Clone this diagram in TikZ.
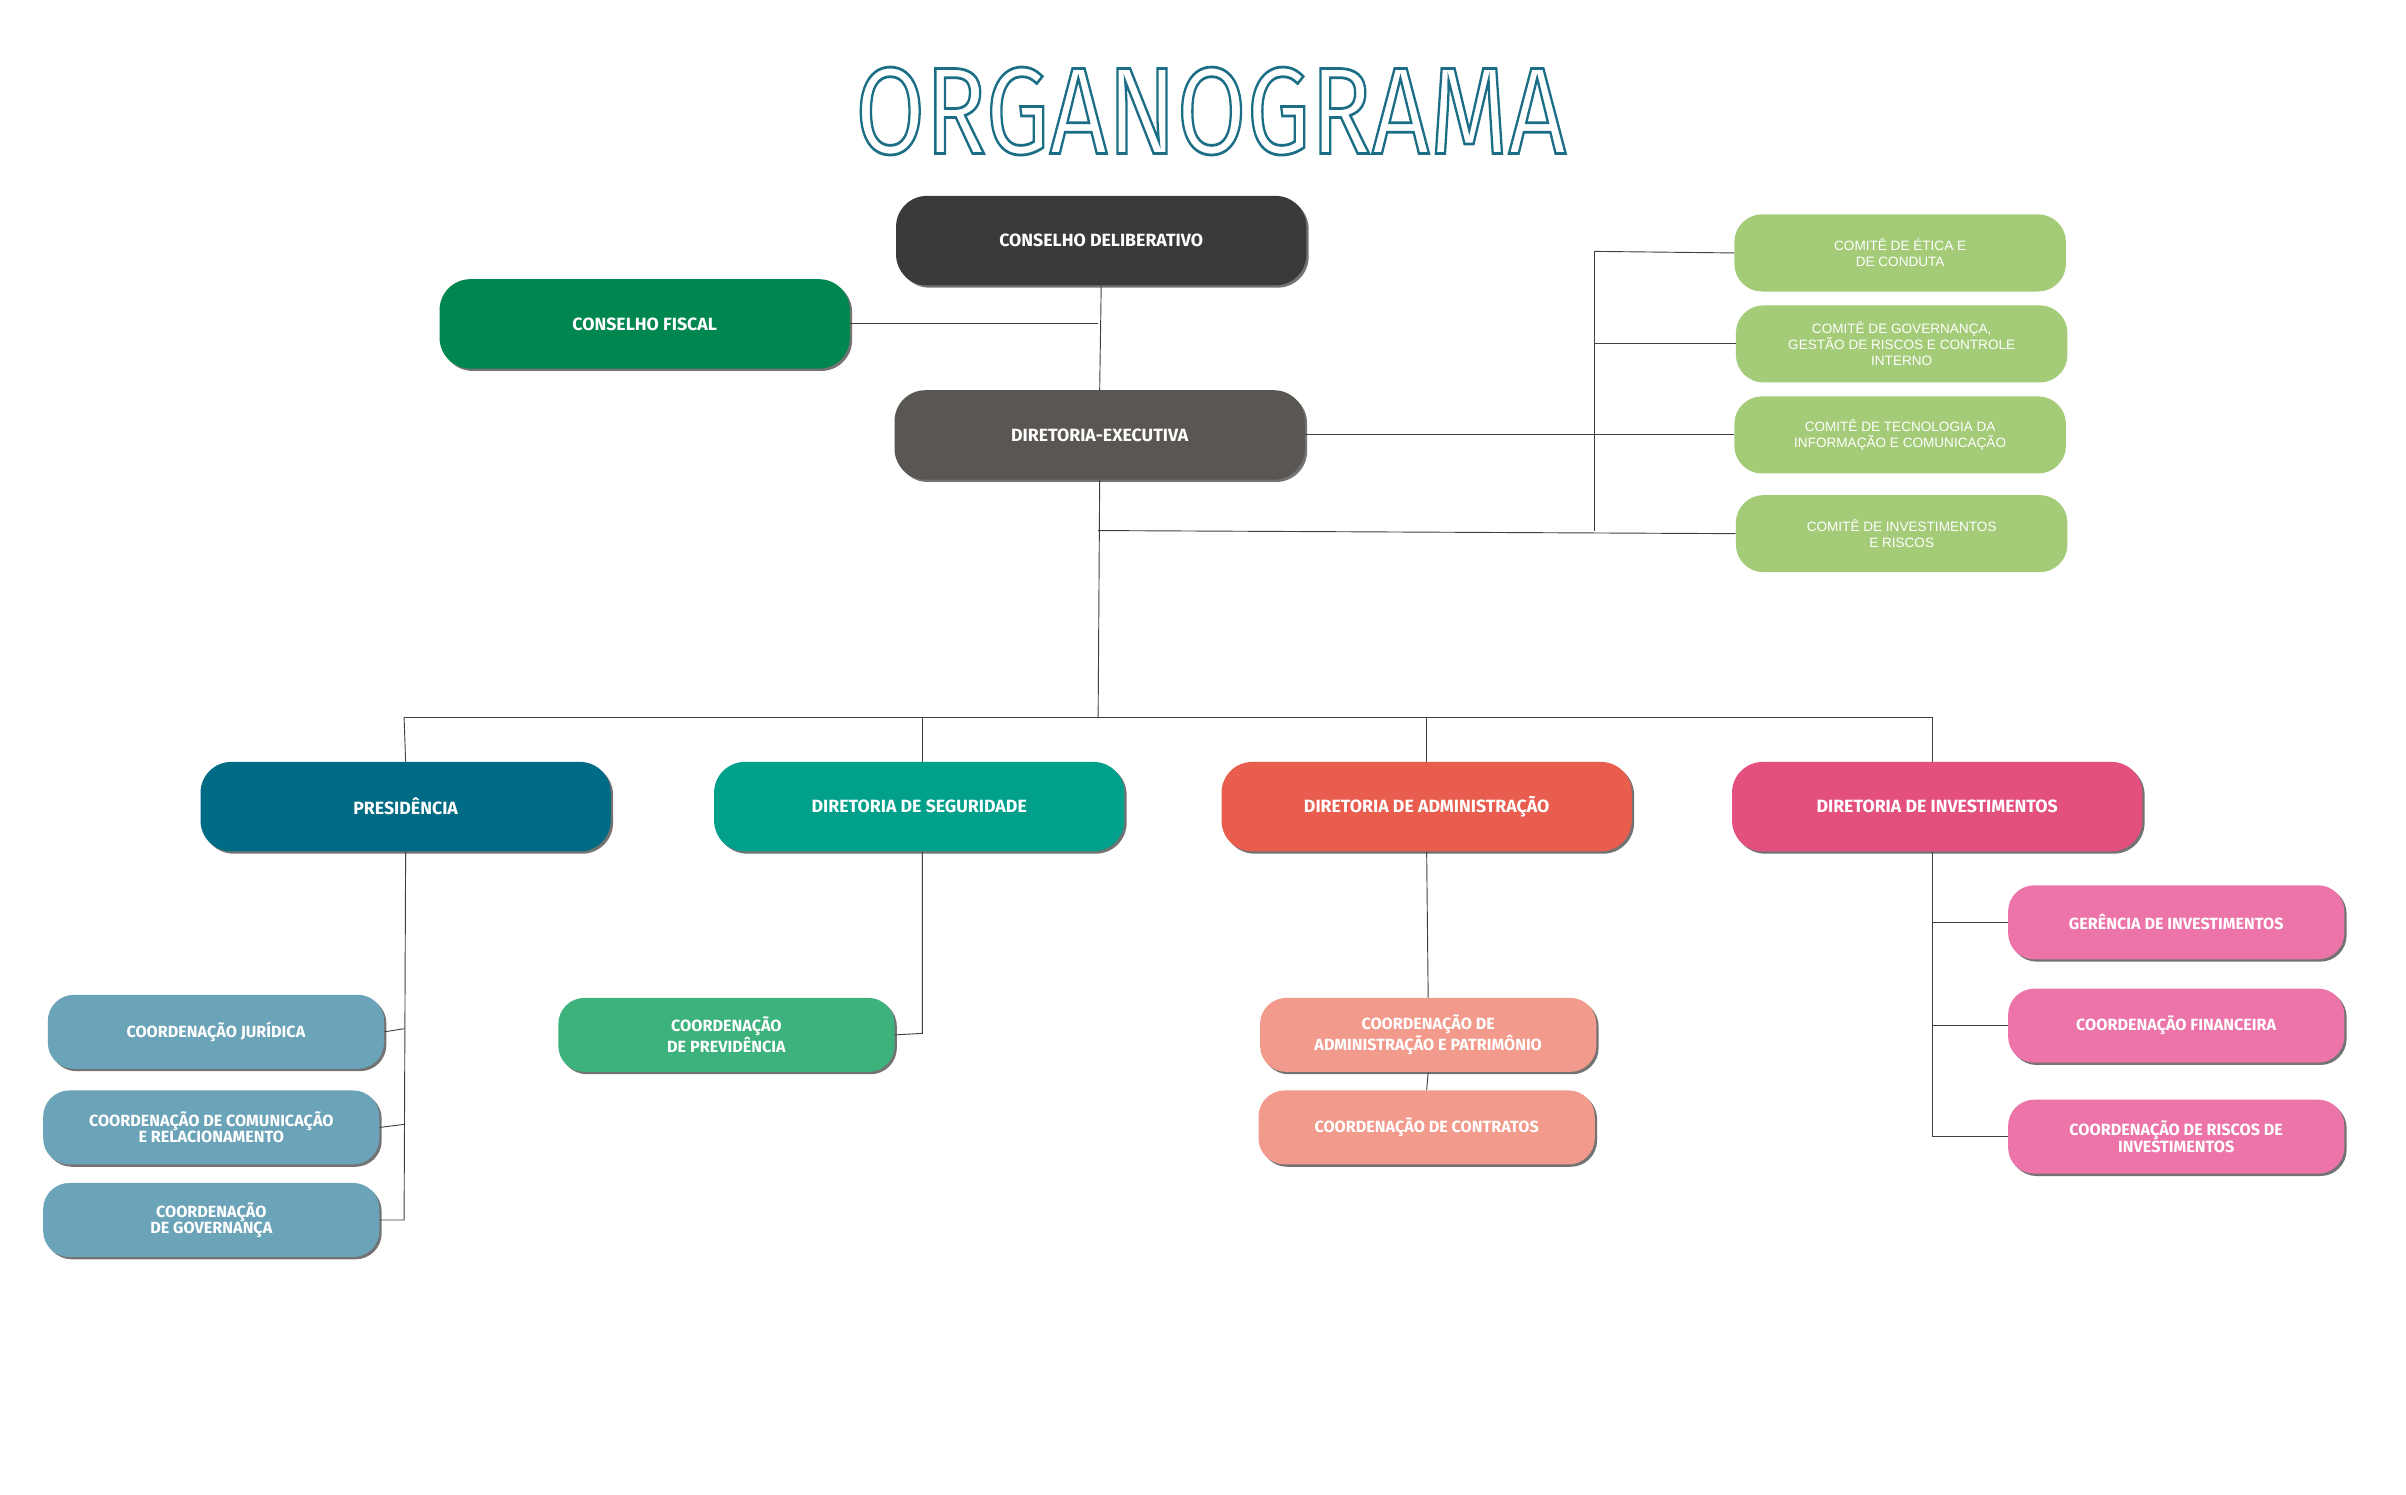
\documentclass[tikz,border=0pt]{standalone}
\usepackage{fontspec}
\setmainfont{Fira Sans}
\newfontfamily\comfont{Liberation Sans}
\usetikzlibrary{shadows}
\definecolor{cd}{HTML}{3A3A3A}
\definecolor{cf}{HTML}{00864F}
\definecolor{de}{HTML}{5A5651}
\definecolor{com}{HTML}{A4CB78}
\definecolor{pres}{HTML}{006B85}
\definecolor{seg}{HTML}{00A08B}
\definecolor{adm}{HTML}{E85D4E}
\definecolor{inv}{HTML}{E4507E}
\definecolor{presc}{HTML}{6BA3B8}
\definecolor{prev}{HTML}{3DB27D}
\definecolor{admc}{HTML}{F29A8C}
\definecolor{invc}{HTML}{EC74A8}
\definecolor{titc}{HTML}{1B6E85}
\tikzset{
 box/.style={rounded corners=17pt, fill=#1, text=white, align=center, inner sep=0pt,
   drop shadow={shadow xshift=1.5pt, shadow yshift=-1.5pt, fill=black!55, opacity=1},
   font=\bfseries\fontsize{11.5}{11}\selectfont},
 big/.style={box=#1, minimum width=266pt, minimum height=58pt, rounded corners=20pt},
 small/.style={box=#1, minimum width=218pt, minimum height=48pt, rounded corners=17pt, font=\bfseries\fontsize{10.5}{10.5}\selectfont},
 comm/.style={rounded corners=18pt, fill=com, text=white, align=center, inner sep=0pt,
   minimum width=215pt, minimum height=50pt, font=\comfont\fontsize{8.8}{10.5}\selectfont},
 ln/.style={draw=black!75, line width=0.6pt}
}
\begin{document}
\begin{tikzpicture}[x=1pt,y=-1pt]
\useasboundingbox (0,0) rectangle (1560,969);
\fill[white] (0,0) rectangle (1560,969);
\node (title) at (785,72) {\color{titc}\special{pdf:literal direct 1 Tr 1.8 w}\scalebox{0.82}[1]{\fontsize{80}{80}\selectfont ORGANOGRAMA}\special{pdf:literal direct 0 Tr}};
% lines
\coordinate (j1) at (712,210);
\coordinate (j2) at (712,344);
\coordinate (j3) at (712,465);
\coordinate (cv1) at (1034,163);
\coordinate (cv2) at (1034,223);
\coordinate (cv3) at (1034,282);
\coordinate (cv4) at (1034,344);
\coordinate (hp) at (262,465);
\coordinate (hs) at (598,465);
\coordinate (ha) at (925,465);
\coordinate (hi) at (1253,465);
\coordinate (pv) at (262,791);
\coordinate (p1) at (262,667);
\coordinate (p2) at (262,729);
\coordinate (sv) at (598,670);
\coordinate (iv) at (1253,737);
\coordinate (i1) at (1253,598);
\coordinate (i2) at (1253,665);

\node[big=cd] (CD) at (714,156) {CONSELHO DELIBERATIVO};
\node[big=cf] (CF) at (418,210) {CONSELHO FISCAL};
\node[big=de] (DE) at (713,282) {DIRETORIA-EXECUTIVA};
\node[comm] (C1) at (1232,164) {COMITÊ DE ÉTICA E\\DE CONDUTA};
\node[comm] (C2) at (1233,223) {COMITÊ DE GOVERNANÇA,\\GESTÃO DE RISCOS E CONTROLE\\INTERNO};
\node[comm] (C3) at (1232,282) {COMITÊ DE TECNOLOGIA DA\\INFORMAÇÃO E COMUNICAÇÃO};
\node[comm] (C4) at (1233,346) {COMITÊ DE INVESTIMENTOS\\E RISCOS};
\node[big=pres] (P) at (263,523) {PRESIDÊNCIA};
\node[big=seg] (S) at (596,523) {DIRETORIA DE SEGURIDADE};
\node[big=adm] (A) at (925,523) {DIRETORIA DE ADMINISTRAÇÃO};
\node[big=inv] (I) at (1256,523) {DIRETORIA DE INVESTIMENTOS};
\node[small=presc] (PJ) at (140,669) {COORDENAÇÃO JURÍDICA};
\node[small=presc] (PC) at (137,731) {COORDENAÇÃO DE COMUNICAÇÃO\\E RELACIONAMENTO};
\node[small=presc] (PG) at (137,791) {COORDENAÇÃO\\DE GOVERNANÇA};
\node[small=prev] (SP) at (471,671) {COORDENAÇÃO\\DE PREVIDÊNCIA};
\node[small=admc] (A1) at (926,671) {COORDENAÇÃO DE\\ADMINISTRAÇÃO E PATRIMÔNIO};
\node[small=admc] (A2) at (925,731) {COORDENAÇÃO DE CONTRATOS};
\node[small=invc] (I1) at (1411,598) {GERÊNCIA DE INVESTIMENTOS};
\node[small=invc] (I2) at (1411,665) {COORDENAÇÃO FINANCEIRA};
\node[small=invc] (I3) at (1411,737) {COORDENAÇÃO DE RISCOS DE\\INVESTIMENTOS};

\begin{scope}[on background layer/.style={}]
\end{scope}
\draw[ln] (CD.south) -- (DE.north);
\draw[ln] (CF.east) -- (j1);
\draw[ln] (DE.east) -- (C3.west);
\draw[ln] (cv1) -- (cv4);
\draw[ln] (cv1) -- (C1.west);
\draw[ln] (cv2) -- (C2.west);
\draw[ln] (j2) -- (C4.west);
\draw[ln] (DE.south) -- (j3);
\draw[ln] (hp) -- (hi);
\draw[ln] (hp) -- (P.north);
\draw[ln] (hs) -- (hs|-S.north);
\draw[ln] (ha) -- (A.north);
\draw[ln] (hi) -- (hi|-I.north);
\draw[ln] (P.south) -- (pv) -- (PG.east);
\draw[ln] (p1) -- (PJ.east);
\draw[ln] (p2) -- (PC.east);
\draw[ln] (S.south-|sv) -- (sv) -- (SP.east);
\draw[ln] (A.south) -- (A1.north);
\draw[ln] (A1.south) -- (A2.north);
\draw[ln] (I.south-|iv) -- (iv) -- (I3.west);
\draw[ln] (i1) -- (I1.west);
\draw[ln] (i2) -- (I2.west);
\end{tikzpicture}
\end{document}
